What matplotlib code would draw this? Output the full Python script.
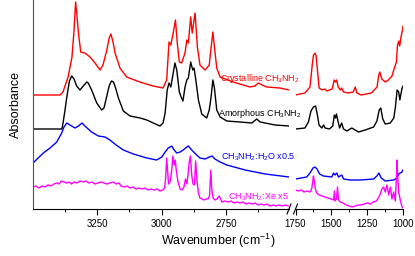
import numpy as np
import matplotlib
matplotlib.use('Agg')
import matplotlib.pyplot as plt

plt.rcParams['font.family'] = ['Liberation Sans', 'DejaVu Sans']
plt.rcParams['mathtext.default'] = 'regular'

# Spettri: numero d'onda (cm^-1) e assorbanza (u.a., con offset)
# --- Crystalline CH3NH2 ---
cry_wn_hi = [3498, 3393, 3382, 3362, 3347, 3339, 3333, 3328, 3322, 3313, 3297, 3277, 3258, 3238,
             3227, 3212, 3203, 3196, 3188, 3180, 3161, 3135, 3084, 3033, 2994, 2980, 2971, 2964,
             2954, 2946, 2939, 2931, 2922, 2909, 2902, 2896, 2887, 2881, 2870, 2861, 2851, 2831,
             2815, 2809, 2801, 2795, 2786, 2773, 2723, 2657, 2638, 2625, 2610, 2592, 2541, 2506]
cry_ab_hi = [1.14, 1.14, 1.17, 1.32, 1.52, 1.79, 2.07, 1.94, 1.76, 1.57, 1.56, 1.52, 1.46, 1.39,
             1.44, 1.59, 1.71, 1.75, 1.67, 1.56, 1.41, 1.32, 1.27, 1.23, 1.21, 1.29, 1.67, 1.64,
             1.77, 1.89, 1.66, 1.47, 1.46, 1.56, 1.69, 1.66, 1.92, 1.76, 1.96, 1.62, 1.44, 1.39,
             1.44, 1.59, 1.77, 1.62, 1.41, 1.32, 1.27, 1.22, 1.23, 1.26, 1.24, 1.22, 1.21, 1.19]
cry_wn_lo = [1750, 1684, 1649, 1631, 1624, 1613, 1606, 1597, 1585, 1564, 1548, 1530, 1494, 1480,
             1470, 1463, 1452, 1438, 1427, 1415, 1382, 1347, 1333, 1322, 1291, 1221, 1181, 1169,
             1162, 1148, 1123, 1102, 1077, 1060, 1046, 1039, 1030, 1023, 1014, 1002, 1000]
cry_ab_lo = [1.14, 1.16, 1.22, 1.47, 1.54, 1.56, 1.53, 1.39, 1.21, 1.19, 1.20, 1.18, 1.20, 1.29,
             1.27, 1.29, 1.22, 1.19, 1.21, 1.17, 1.16, 1.17, 1.22, 1.16, 1.14, 1.16, 1.22, 1.34,
             1.37, 1.30, 1.27, 1.29, 1.33, 1.41, 1.47, 1.63, 1.68, 1.63, 1.72, 1.80, 1.83]

# --- Amorphous CH3NH2 ---
amo_wn_hi = [3498, 3386, 3381, 3374, 3367, 3357, 3348, 3339, 3329, 3316, 3303, 3290, 3284, 3271,
             3251, 3232, 3223, 3212, 3203, 3194, 3186, 3178, 3167, 3148, 3122, 3083, 3057, 3032,
             3006, 2994, 2986, 2978, 2971, 2964, 2954, 2948, 2941, 2931, 2924, 2917, 2909, 2902,
             2896, 2887, 2879, 2874, 2867, 2857, 2844, 2825, 2815, 2808, 2801, 2795, 2786, 2773,
             2747, 2696, 2650, 2631, 2618, 2560, 2506]
amo_ab_hi = [0.80, 0.80, 0.87, 0.99, 1.12, 1.28, 1.33, 1.30, 1.23, 1.19, 1.23, 1.27, 1.26, 1.19,
             1.06, 0.99, 1.01, 1.13, 1.23, 1.28, 1.27, 1.21, 1.11, 0.98, 0.93, 0.91, 0.89, 0.86,
             0.83, 0.86, 0.96, 1.19, 1.26, 1.22, 1.37, 1.46, 1.39, 1.17, 1.12, 1.08, 1.22, 1.29,
             1.31, 1.47, 1.39, 1.41, 1.29, 1.09, 0.95, 0.91, 0.99, 1.12, 1.29, 1.21, 0.99, 0.92,
             0.88, 0.87, 0.86, 0.90, 0.87, 0.84, 0.83]
amo_wn_lo = [1750, 1684, 1660, 1642, 1625, 1610, 1597, 1586, 1567, 1554, 1544, 1513, 1490, 1479,
             1471, 1464, 1454, 1442, 1428, 1415, 1392, 1357, 1334, 1310, 1264, 1205, 1182, 1166,
             1155, 1141, 1124, 1089, 1064, 1053, 1041, 1030, 1022, 1008, 1000]
amo_ab_lo = [0.80, 0.81, 0.87, 0.98, 1.02, 1.03, 0.94, 0.84, 0.81, 0.84, 0.81, 0.80, 0.83, 0.94,
             0.91, 0.95, 0.88, 0.81, 0.86, 0.80, 0.78, 0.81, 0.79, 0.77, 0.79, 0.82, 0.88, 0.99,
             1.01, 0.90, 0.85, 0.86, 0.91, 1.02, 1.19, 1.17, 1.09, 1.20, 1.23]

# --- CH3NH2:H2O x0.5 ---
h2o_wn_hi = [3498, 3458, 3432, 3406, 3387, 3378, 3367, 3355, 3335, 3322, 3308, 3297, 3271, 3245,
             3219, 3200, 3176, 3148, 3109, 3057, 3019, 2999, 2986, 2974, 2960, 2954, 2941, 2928,
             2916, 2902, 2896, 2883, 2864, 2851, 2831, 2815, 2804, 2793, 2773, 2747, 2676, 2598,
             2506]
h2o_ab_hi = [0.46, 0.56, 0.61, 0.67, 0.76, 0.82, 0.86, 0.84, 0.81, 0.83, 0.86, 0.83, 0.77, 0.73,
             0.72, 0.69, 0.64, 0.59, 0.55, 0.51, 0.49, 0.52, 0.57, 0.61, 0.63, 0.60, 0.56, 0.57,
             0.59, 0.62, 0.63, 0.59, 0.54, 0.51, 0.50, 0.52, 0.53, 0.50, 0.47, 0.44, 0.39, 0.35,
             0.32]
h2o_wn_lo = [1750, 1672, 1649, 1628, 1614, 1600, 1582, 1555, 1497, 1484, 1474, 1462, 1450, 1427,
             1415, 1368, 1298, 1205, 1182, 1168, 1152, 1124, 1065, 1042, 1030, 1019, 1007, 1000]
h2o_ab_lo = [0.30, 0.32, 0.36, 0.41, 0.42, 0.40, 0.35, 0.33, 0.32, 0.36, 0.34, 0.36, 0.32, 0.34,
             0.30, 0.29, 0.29, 0.30, 0.33, 0.36, 0.31, 0.28, 0.29, 0.31, 0.35, 0.36, 0.37, 0.39]

# --- CH3NH2:Xe x5 ---
xe_wn_hi = [3498, 3487, 3475, 3463, 3452, 3440, 3428, 3417, 3405, 3397, 3388, 3378, 3368, 3359,
            3349, 3339, 3328, 3316, 3304, 3293, 3281, 3269, 3258, 3246, 3234, 3223, 3211, 3200,
            3188, 3176, 3165, 3157, 3145, 3134, 3122, 3110, 3099, 3087, 3076, 3064, 3052, 3041,
            3029, 3017, 3006, 2994, 2988, 2984, 2980, 2976, 2973, 2967, 2961, 2956, 2951, 2947,
            2942, 2936, 2928, 2921, 2913, 2907, 2902, 2897, 2893, 2888, 2883, 2878, 2872, 2868,
            2862, 2857, 2851, 2843, 2835, 2827, 2820, 2814, 2809, 2805, 2800, 2793, 2785, 2777,
            2771, 2766, 2754, 2742, 2731, 2719, 2707, 2696, 2684, 2672, 2661, 2649, 2638, 2626,
            2614, 2603, 2591, 2580, 2568, 2556, 2545, 2533, 2521, 2506]
xe_ab_hi = [0.22, 0.23, 0.21, 0.23, 0.22, 0.24, 0.23, 0.25, 0.26, 0.25, 0.28, 0.27, 0.26, 0.27,
            0.25, 0.27, 0.26, 0.28, 0.27, 0.28, 0.26, 0.27, 0.25, 0.26, 0.27, 0.26, 0.25, 0.26,
            0.27, 0.25, 0.26, 0.23, 0.22, 0.23, 0.21, 0.22, 0.20, 0.21, 0.20, 0.21, 0.19, 0.20,
            0.19, 0.20, 0.18, 0.19, 0.21, 0.31, 0.51, 0.37, 0.25, 0.27, 0.37, 0.53, 0.44, 0.49,
            0.37, 0.27, 0.20, 0.19, 0.22, 0.30, 0.25, 0.35, 0.46, 0.53, 0.34, 0.25, 0.24, 0.48,
            0.27, 0.16, 0.11, 0.10, 0.09, 0.10, 0.10, 0.13, 0.39, 0.19, 0.11, 0.09, 0.10, 0.13,
            0.10, 0.07, 0.08, 0.07, 0.08, 0.06, 0.07, 0.06, 0.07, 0.05, 0.06, 0.05, 0.06, 0.04,
            0.05, 0.04, 0.05, 0.03, 0.04, 0.03, 0.04, 0.03, 0.04, 0.03]
xe_wn_lo = [1750, 1732, 1711, 1690, 1670, 1649, 1637, 1630, 1625, 1620, 1613, 1602, 1586, 1564,
            1544, 1522, 1501, 1485, 1478, 1474, 1464, 1457, 1450, 1438, 1417, 1396, 1375, 1355,
            1334, 1312, 1291, 1270, 1250, 1228, 1208, 1186, 1172, 1158, 1147, 1135, 1124, 1112,
            1100, 1088, 1077, 1065, 1054, 1045, 1042, 1037, 1030, 1019, 1007, 1000]
xe_ab_lo = [0.19, 0.18, 0.19, 0.17, 0.18, 0.17, 0.20, 0.27, 0.33, 0.29, 0.21, 0.16, 0.14, 0.13,
            0.12, 0.11, 0.10, 0.09, 0.18, 0.08, 0.10, 0.22, 0.09, 0.07, 0.06, 0.04, 0.03, 0.02,
            0.03, 0.04, 0.04, 0.05, 0.06, 0.05, 0.07, 0.08, 0.11, 0.15, 0.20, 0.22, 0.17, 0.24,
            0.14, 0.22, 0.10, 0.17, 0.08, 0.34, 0.49, 0.33, 0.17, 0.09, 0.02, 0.01]

# Etichette e colori delle serie
labels = ['Crystalline CH$_3$NH$_2$', 'Amorphous CH$_3$NH$_2$',
          'CH$_3$NH$_2$:H$_2$O x0.5', 'CH$_3$NH$_2$:Xe x5']
colors = ['#ff0000', '#000000', '#0000ff', '#ff00ff']
label_y = [1.30, 0.95, 0.515, 0.12]
label_x = [2463, 2457, 2481, 2508]   # fine del testo (in cm^-1 sulla scala sinistra)

# Assi con interruzione (due pannelli affiancati)
W, H = 415, 256
fig = plt.figure(figsize=(W / 100, H / 100), dpi=100)
y0 = 1 - 209 / H
ax1 = fig.add_axes([32.5 / W, y0, (289 - 32.5) / W, 1 - y0])
ax2 = fig.add_axes([295.5 / W, y0, (403 - 295.5) / W, 1 - y0])
ax2.patch.set_visible(False)   # lo sfondo del pannello destro non deve coprire le etichette

series_hi = [(cry_wn_hi, cry_ab_hi), (amo_wn_hi, amo_ab_hi),
             (h2o_wn_hi, h2o_ab_hi), (xe_wn_hi, xe_ab_hi)]
series_lo = [(cry_wn_lo, cry_ab_lo), (amo_wn_lo, amo_ab_lo),
             (h2o_wn_lo, h2o_ab_lo), (xe_wn_lo, xe_ab_lo)]

for (x, y), c in zip(series_hi, colors):
    ax1.plot(x, y, color=c, lw=1.0)
for (x, y), c in zip(series_lo, colors):
    ax2.plot(x, y, color=c, lw=1.0)

ax1.set_xlim(3500, 2506)
ax2.set_xlim(1750, 1000)
for ax in (ax1, ax2):
    ax.set_ylim(0, 2.09)
    ax.set_yticks([])
    ax.spines['top'].set_visible(False)
    ax.spines['right'].set_visible(False)
    ax.tick_params(axis='x', direction='out', length=4, width=0.8, labelsize=7, pad=3)
    ax.tick_params(axis='x', which='minor', direction='out', length=2.5, width=0.8)
ax2.spines['left'].set_visible(False)
ax1.spines['left'].set_color('#555555')

ax1.set_xticks([3250, 3000, 2750])
ax1.set_xticks([3375, 3125, 2875, 2625], minor=True)
ax2.set_xticks([1750, 1500, 1250, 1000])
ax2.set_xticks([1625, 1375, 1125], minor=True)

# Etichette delle serie
for lab, c, xx, yy in zip(labels, colors, label_x, label_y):
    ax1.text(xx, yy, lab, color=c, fontsize=6.5, ha='right', va='center', clip_on=False)

# Segni di interruzione "//"
for xb in (289, 295.5):
    fig.add_artist(plt.Line2D([(xb - 2) / W, (xb + 2) / W],
                              [(256 - 214) / H, (256 - 204) / H], color='black', lw=0.8))

fig.text(218 / W, 1 - 241 / H, 'Wavenumber (cm$^{-1}$)', ha='center', va='center', fontsize=9)
fig.text(16 / W, y0 + (1 - y0) / 2, 'Absorbance', ha='center', va='center',
         rotation=90, fontsize=9)

fig.savefig('out.png', dpi=100)
